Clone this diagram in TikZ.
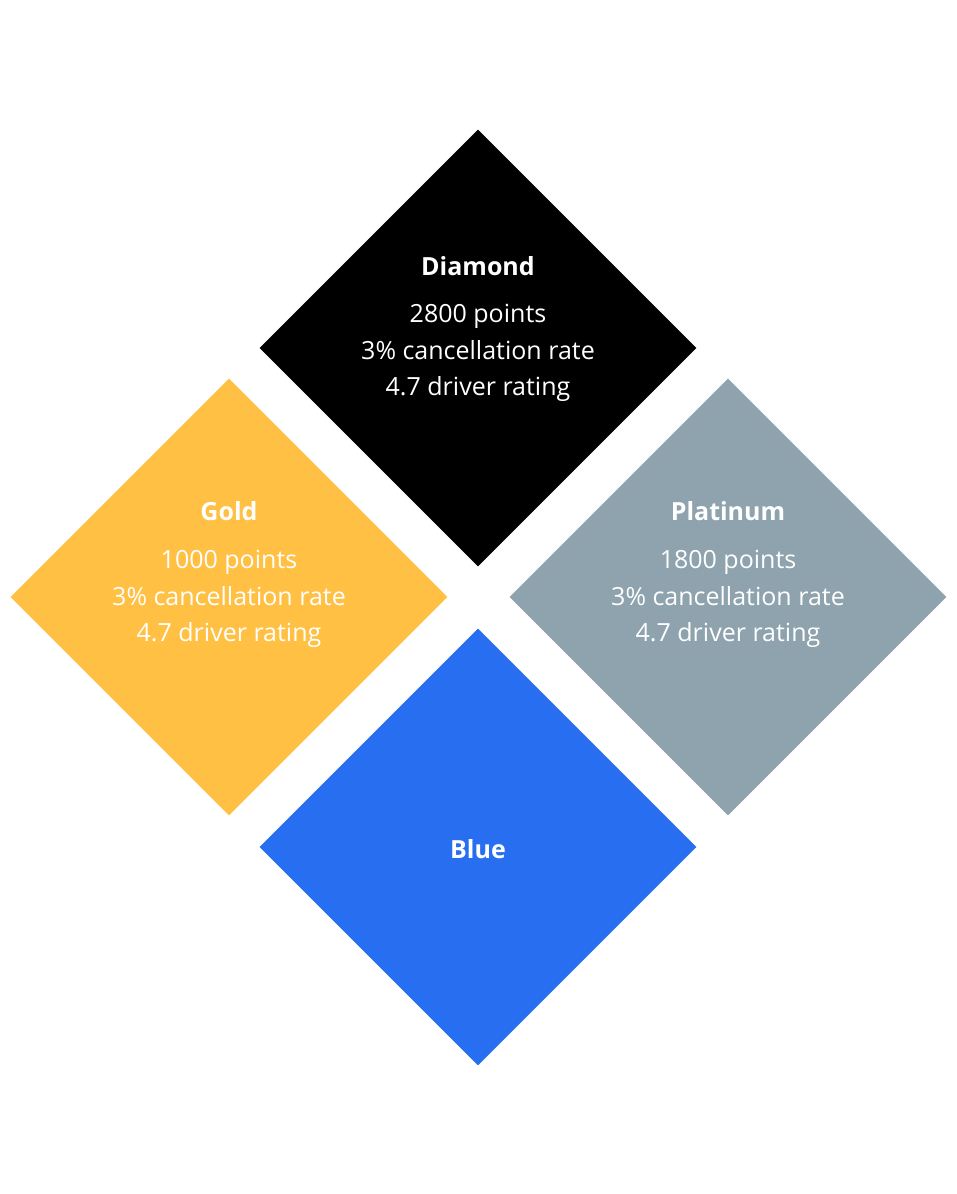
\documentclass[tikz,border=0pt]{standalone}
\usepackage{fontspec}
\setmainfont{Open Sans}
\usetikzlibrary{shapes.geometric}
\definecolor{cdiam}{HTML}{000000}
\definecolor{cgold}{HTML}{FFC043}
\definecolor{cplat}{HTML}{8EA3AD}
\definecolor{cblue}{HTML}{276EF1}
\begin{document}
\begin{tikzpicture}[x=1pt,y=-1pt,
  tier/.style={diamond,aspect=1,inner sep=0pt,minimum width=437pt,minimum height=437pt},
  ttl/.style={text=white,font=\fontsize{25}{30}\selectfont\bfseries},
  body/.style={text=white,align=center,font=\fontsize{25}{36.5}\selectfont}]
\useasboundingbox (0,0) rectangle (956,1194);
\node[tier,fill=cdiam] (diam) at (478,348) {};
\node[tier,fill=cgold] (gold) at (229,597) {};
\node[tier,fill=cplat] (plat) at (728,597) {};
\node[tier,fill=cblue] (blue) at (478,847) {};
\node[ttl] (tdiam) at (478,266) {Diamond};
\node[body] (bdiam) at (478,353) {2800 points\\3\% cancellation rate\\4.7 driver rating};
\node[ttl] (tgold) at (229,511) {Gold};
\node[body] (bgold) at (229,599) {1000 points\\3\% cancellation rate\\4.7 driver rating};
\node[ttl] (tplat) at (728,511) {Platinum};
\node[body] (bplat) at (728,599) {1800 points\\3\% cancellation rate\\4.7 driver rating};
\node[ttl] (tblue) at (478,849) {Blue};
\end{tikzpicture}
\end{document}
